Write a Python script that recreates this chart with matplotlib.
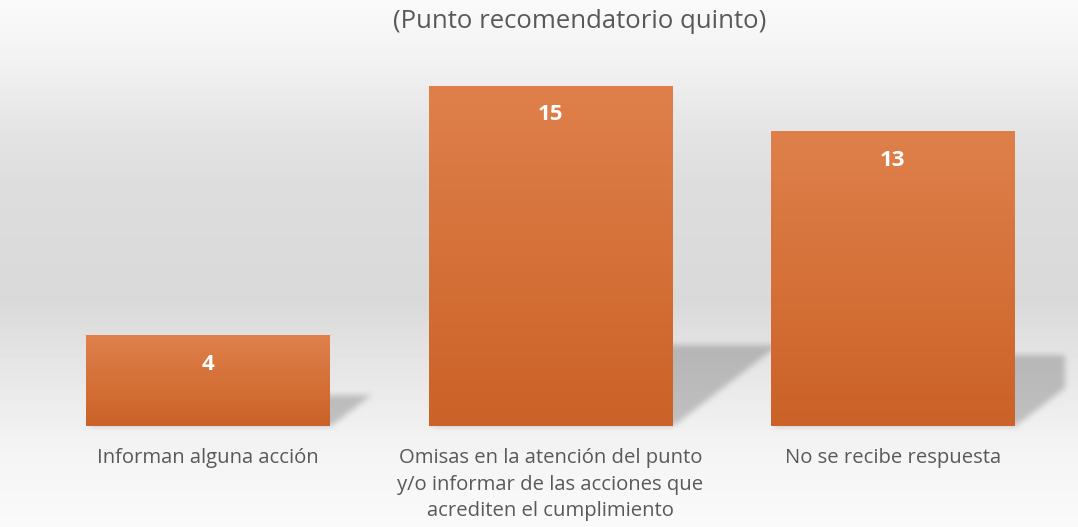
import numpy as np
import matplotlib.pyplot as plt
from matplotlib.patches import Rectangle
from matplotlib.colors import LinearSegmentedColormap

categories = ['Informan alguna acción',
              'Omisas en la atención del punto\ny/o informar de las acciones que\nacrediten el cumplimiento',
              'No se recibe respuesta']
values = [4, 15, 13]
title = '(Punto recomendatorio quinto)'

W, H = 1078, 527
fig = plt.figure(figsize=(W / 100, H / 100), dpi=100)

# background gradient (whole figure)
bg = fig.add_axes([0, 0, 1, 1])
bg.axis('off')
ys = np.arange(H)
stops_y = [0, 60, 120, 180, 300, 340, 420, 440, 527]
stops_v = [250, 242, 230, 221, 217, 225, 239, 243, 250]
col = np.interp(ys, stops_y, stops_v) / 255.0
bg_img = np.repeat(col[:, None], W, axis=1)

ax = fig.add_axes([37 / W, (H - 426) / H, 1027 / W, 362.7 / H])
ax.set_xlim(-0.5, 2.5)
ax.set_ylim(0, 16)
ax.patch.set_alpha(0)
ax.axis('off')

bar_w = 0.712

# soft perspective shadows, built as a blurred mask in pixel space
mask = np.zeros((H, W))
ax_x1, _ = ax.transAxes.transform((1, 1))
xx = np.arange(W)
for i, v in enumerate(values):
    (xl, yb), (xr, yt) = ax.transData.transform([(i - bar_w / 2, 0), (i + bar_w / 2, v)])
    base = H - yb
    hpx = yt - yb
    hs = 0.2 * hpx + 12
    dx = hs * 1.3
    for r in range(int(base - hs), int(base)):
        t = (base - r) / hs
        lo = xl + dx * t
        hi = min(xr + dx * t, ax_x1)
        mask[r, (xx >= lo) & (xx <= hi)] = 1


def box_blur(a, k):
    ker = np.ones(k) / k
    a = np.apply_along_axis(lambda m: np.convolve(m, ker, mode='same'), 0, a)
    a = np.apply_along_axis(lambda m: np.convolve(m, ker, mode='same'), 1, a)
    return a


mask = box_blur(box_blur(mask, 7), 7)
bg_img = bg_img * (1 - 0.2 * mask)
bg.imshow(bg_img, cmap='gray', vmin=0, vmax=1, extent=[0, W, H, 0],
          aspect='auto', interpolation='nearest')
bg.set_xlim(0, W)
bg.set_ylim(H, 0)

cmap = LinearSegmentedColormap.from_list('o', ['#cb6227', '#df804b'])
grad = np.linspace(0, 1, 256)[:, None]
px_y = 22.67  # pixels per y unit

for i, v in enumerate(values):
    rect = Rectangle((i - bar_w / 2, 0), bar_w, v, facecolor='none',
                     edgecolor='none', zorder=2)
    ax.add_patch(rect)
    im = ax.imshow(grad, cmap=cmap, aspect='auto', origin='lower',
                   extent=[i - bar_w / 2, i + bar_w / 2, 0, v], zorder=2)
    im.set_clip_path(rect)
    ax.text(i, v - 29 / px_y, str(v), ha='center', va='center',
            color='white', fontsize=16, fontweight='bold', family='Open Sans',
            zorder=3)
    ax.text(i, -22 / px_y, categories[i], ha='center', va='top',
            color='#595959', fontsize=14.6, family='Open Sans',
            linespacing=1.45, zorder=3)

ax.set_xlim(-0.5, 2.5)
ax.set_ylim(0, 16)

fig.text(580 / W, 1 - 22 / H, title, ha='center', va='center',
         color='#595959', fontsize=18.5, family='Open Sans')

fig.savefig('out.png', dpi=100)
